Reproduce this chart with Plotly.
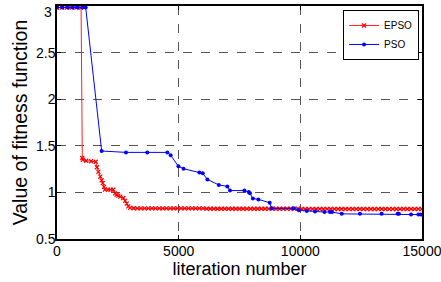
import plotly.graph_objects as go

# EPSO data
epso_x = [0, 200, 400, 600, 800, 990, 1040, 1060, 1200, 1400, 1590, 1640, 1700, 1780, 1835, 1880,
          1930, 1970, 2100, 2200, 2315, 2385, 2450, 2520, 2600, 2725, 2800, 2865, 2930, 3000,
          3150, 3300, 3450, 3600, 3750, 3900, 4050, 4200, 4350, 4500, 4650, 4800, 4950, 5100,
          5250, 5400, 5550, 5700, 5850, 6000,
          6150, 6300, 6450, 6600, 6750, 6900, 7050, 7200, 7350, 7500, 7650, 7800, 7950, 8100,
          8250, 8400, 8550, 8700, 8850, 9000, 9150, 9300, 9450, 9600, 9750, 9900,
          10050, 10200, 10350, 10500, 10650, 10800, 10950, 11100, 11250, 11400, 11550, 11700,
          11850, 12000, 12150, 12300, 12450, 12600, 12750, 12900, 13050, 13200, 13350, 13500,
          13650, 13800, 13950, 14100, 14250, 14400, 14550, 14700, 14850, 15000]
epso_y = [2.985, 2.985, 2.985, 2.985, 2.985, 2.985, 1.37, 1.35, 1.34, 1.335, 1.33, 1.27, 1.22, 1.17, 1.13, 1.10,
          1.06, 1.03, 1.03, 1.03, 1.03, 0.99, 0.975, 0.965, 0.955, 0.94, 0.91, 0.88, 0.85, 0.835,
          0.83, 0.828, 0.828, 0.828, 0.828, 0.828, 0.828, 0.828, 0.828, 0.828, 0.828, 0.828, 0.828, 0.828,
          0.828, 0.828, 0.828, 0.828, 0.828, 0.828,
          0.825, 0.825, 0.825, 0.825, 0.825, 0.825, 0.825, 0.825, 0.825, 0.825, 0.825, 0.825, 0.825, 0.825,
          0.825, 0.825, 0.825, 0.825, 0.825, 0.825, 0.825, 0.825, 0.825, 0.825, 0.825, 0.825,
          0.822, 0.822, 0.822, 0.822, 0.822, 0.822, 0.822, 0.822, 0.822, 0.822, 0.822, 0.822,
          0.822, 0.822, 0.822, 0.822, 0.822, 0.822, 0.822, 0.822, 0.822, 0.822, 0.822, 0.822,
          0.822, 0.822, 0.822, 0.822, 0.822, 0.822, 0.822, 0.822, 0.822, 0.822]

# PSO data
pso_x = [0, 220, 450, 650, 850, 1050, 1180, 1835, 2835, 3710, 4535, 4670, 4990, 5200, 5850, 5990,
         6180, 6650, 7000, 7110, 7700, 7880, 7930, 8050, 8275, 8740, 8825, 9715, 9940, 10265,
         10605, 10990, 11220, 11300, 11700, 12450, 13340, 14000, 14050, 14550, 14850, 14950]
pso_y = [2.985, 2.985, 2.985, 2.985, 2.985, 2.985, 2.985, 1.445, 1.43, 1.43, 1.43, 1.40, 1.28, 1.255, 1.215, 1.205,
         1.14, 1.08, 1.065, 1.02, 1.02, 1.005, 0.99, 0.935, 0.925, 0.89, 0.83, 0.83, 0.81, 0.80,
         0.795, 0.79, 0.79, 0.79, 0.77, 0.77, 0.77, 0.77, 0.77, 0.762, 0.762, 0.762]

x_ticks = [0, 5000, 10000, 15000]
y_ticks = [0.5, 1, 1.5, 2, 2.5, 3]
y_tick_labels = ["0.5", "1", "1.5", "2", "2.5", "3"]

FONT = "Liberation Sans, Arial, sans-serif"

fig = go.Figure()
fig.add_trace(go.Scatter(
    x=epso_x, y=epso_y, name="EPSO", mode="lines+markers",
    line=dict(color="#ff2020", width=1),
    marker=dict(symbol="x-thin", size=4, color="#ff0000", line=dict(color="#ff0000", width=1.2)),
))
fig.add_trace(go.Scatter(
    x=pso_x, y=pso_y, name="PSO", mode="lines+markers",
    line=dict(color="#0000ff", width=1),
    marker=dict(symbol="circle", size=4, color="#0000ff"),
))

axis_common = dict(
    showline=True, linecolor="black", linewidth=1.5, mirror="allticks",
    ticks="inside", ticklen=4, tickcolor="black",
    showgrid=True, gridcolor="#555555", griddash="dash", gridwidth=1,
    zeroline=False, ticklabeloverflow="allow",
    tickfont=dict(family=FONT, size=14, color="black"),
)

fig.update_xaxes(
    range=[0, 15000], tickvals=x_ticks, ticktext=[str(v) for v in x_ticks],
    ticklabelstandoff=-2,
    title=dict(text="literation number", standoff=2,
               font=dict(family=FONT, size=18, color="black")),
    **axis_common,
)
# the top label ("3") is drawn as an annotation nudged below the frame edge, as in the reference
fig.update_yaxes(
    range=[0.5, 3.002], tickvals=y_ticks,
    ticktext=y_tick_labels[:-1] + [""],
    ticklabelstandoff=-3,
    title=dict(text="Value of fitness function", standoff=3,
               font=dict(family=FONT, size=19.5, color="black")),
    **axis_common,
)
fig.add_annotation(
    x=0, xref="paper", y=y_ticks[-1], yref="y", text=y_tick_labels[-1],
    showarrow=False, xanchor="right", yanchor="middle", xshift=-3, yshift=-6,
    font=dict(family=FONT, size=14, color="black"),
)

fig.update_layout(
    width=441, height=282,
    margin=dict(l=57, r=19, t=6, b=43, autoexpand=False),
    paper_bgcolor="white", plot_bgcolor="white",
    showlegend=True,
    legend=dict(
        x=0.992, y=0.983, xanchor="right", yanchor="top",
        bgcolor="white", bordercolor="black", borderwidth=1,
        font=dict(family=FONT, size=10, color="black"),
        tracegroupgap=0, itemwidth=30,
    ),
)

fig.write_html("out.html", config={"displayModeBar": False},
               post_script="document.body.style.margin='0px';")
